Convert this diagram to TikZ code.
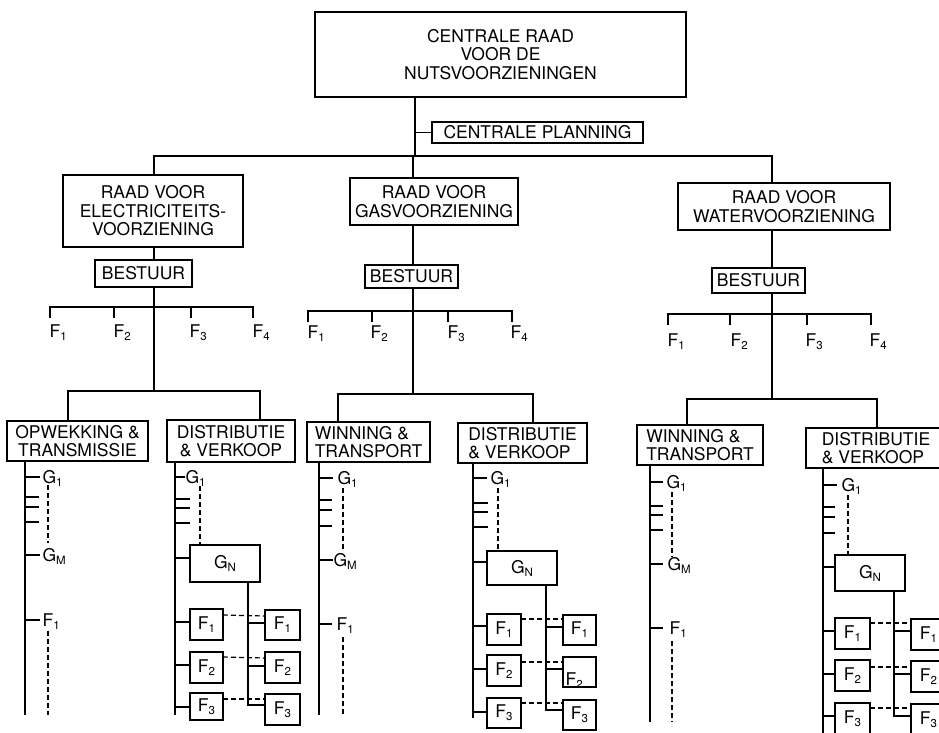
\documentclass[tikz,border=0pt]{standalone}
\usepackage{fontspec}
\setmainfont{TeX Gyre Heros}
\newcommand\bigf{\fontsize{17.5}{18.5}\selectfont}
\newcommand\sbs[1]{\raisebox{-3pt}{\fontsize{11.5}{11.5}\selectfont #1}}
\newcommand\rbox[6]{\node[box, minimum width={(#4-#2)*1pt}, minimum height={(#5-#3)*1pt}] (#1) at ({(#2+#4)/2},{(#3+#5)/2}) {#6};}
\begin{document}
\begin{tikzpicture}[x=1pt,y=-1pt,line width=1.2pt,
  box/.style={draw, inner sep=0pt, outer sep=0pt, align=center, font=\bigf},
  lbl/.style={inner sep=0pt, anchor=base west, font=\bigf},
  dsh/.style={dash pattern=on 5pt off 3pt}]
\useasboundingbox (0,0) rectangle (939,732);
\clip (0,0) rectangle (939,732);
\fill[white] (0,0) rectangle (939,732);

% top level
\rbox{top}{315}{12}{686}{97}{CENTRALE RAAD\\VOOR DE\\NUTSVOORZIENINGEN}
\rbox{plan}{432}{122}{643}{143}{CENTRALE PLANNING}
\coordinate (j0) at (415,156);
\coordinate (jE) at (154,156);
\coordinate (jG) at (413,156);
\coordinate (jW) at (772,156);
\draw (top.south -| j0) -- (j0);
\draw (plan.west -| j0) -- (plan.west);

\rbox{elec}{63}{175}{243}{247}{RAAD VOOR\\ELECTRICITEITS-\\VOORZIENING}
\rbox{gas}{350}{178}{518}{225}{RAAD VOOR\\GASVOORZIENING}
\rbox{water}{678}{183}{890}{230}{RAAD VOOR\\WATERVOORZIENING}
\draw (elec.north -| jE) -- (jE) -- (jW) -- (water.north -| jW);
\draw (jG) -- (gas.north -| jG);

\rbox{bE}{95}{260}{192}{287}{BESTUUR}
\rbox{bG}{365}{265}{458}{288}{BESTUUR}
\rbox{bW}{712}{268}{805}{293}{BESTUUR}
\draw (elec.south -| jE) -- (bE.north -| jE);
\draw (gas.south -| jG) -- (bG.north -| jG);
\draw (water.south -| jW) -- (bW.north -| jW);

% function lines
\draw (50,318) -- (50,307) -- (253,307) -- (253,318);
\draw (114,307) -- (114,318); \draw (191,307) -- (191,318);
\node[lbl] (eF1) at (49,337) {F\sbs1};
\node[lbl] (eF2) at (113,337) {F\sbs2};
\node[lbl] (eF3) at (189,337) {F\sbs3};
\node[lbl] (eF4) at (252,337) {F\sbs4};

\draw (308,322) -- (308,311) -- (512,311) -- (512,322);
\draw (372,311) -- (372,322); \draw (448,311) -- (448,322);
\node[lbl] (gF1) at (307,338) {F\sbs1};
\node[lbl] (gF2) at (370,338) {F\sbs2};
\node[lbl] (gF3) at (447,338) {F\sbs3};
\node[lbl] (gF4) at (510,338) {F\sbs4};

\draw (668,325) -- (668,314) -- (871,314) -- (871,325);
\draw (730,314) -- (730,325); \draw (807,314) -- (807,325);
\node[lbl] (wF1) at (667,346) {F\sbs1};
\node[lbl] (wF2) at (730,346) {F\sbs2};
\node[lbl] (wF3) at (805,346) {F\sbs3};
\node[lbl] (wF4) at (869,346) {F\sbs4};

% sub divisions
\rbox{opE}{7}{421}{148}{461}{OPWEKKING \&\\TRANSMISSIE}
\rbox{dE}{167}{420}{295}{462}{DISTRIBUTIE\\\& VERKOOP}
\node[box, align=left, minimum width=123pt, minimum height=40pt] (wG) at (368.5,442) {WINNING \&\\TRANSPORT};
\node[box, align=left, minimum width=129pt, minimum height=40pt] (dG) at (522.5,443) {DISTRIBUTIE\\\& VERKOOP};
\node[box, align=left, minimum width=126pt, minimum height=40pt] (wW) at (700,445) {WINNING \&\\TRANSPORT};
\node[box, align=left, minimum width=140pt, minimum height=40pt] (dW) at (876,448) {DISTRIBUTIE\\\& VERKOOP};

\coordinate (kE) at (154,391);
\coordinate (kG) at (413,394);
\coordinate (kW) at (772,399);
\draw (bE.south -| kE) -- (kE);
\draw (bG.south -| kG) -- (kG);
\draw (bW.south -| kW) -- (kW);
\draw (opE.north -| 68,0) -- (68,391) -- (260,391) -- (dE.north -| 260,0);
\draw (wG.north -| 338,0) -- (338,394) -- (533,394) -- (dG.north -| 533,0);
\draw (wW.north -| 687,0) -- (687,399) -- (877,399) -- (dW.north -| 877,0);

% ---- column A : opwekking
\coordinate (aB) at (25,715);
\draw (opE.south -| aB) -- (aB);
\node[lbl] (aG1) at (42,483) {G\sbs1};
\draw (25,477) -- (40,477);
\draw (25,497) -- (39,497); \draw (25,507) -- (39,507); \draw (25,522) -- (39,522);
\draw[dsh] (48,485) -- (48,543);
\node[lbl] (aGM) at (42,561) {G\sbs{M}};
\draw (25,555) -- (40,555);
\node[lbl] (aF1) at (42,626) {F\sbs1};
\draw (25,620) -- (40,620);
\draw[dsh] (48,631) -- (48,715);

% ---- column C : winning gas
\coordinate (cB) at (319,715);
\draw (wG.south -| cB) -- (cB);
\node[lbl] (cG1) at (337,484) {G\sbs1};
\draw (319,478) -- (333,478);
\draw (319,500) -- (332,500); \draw (319,510) -- (332,510); \draw (319,526) -- (332,526);
\draw[dsh] (343,488) -- (343,550);
\node[lbl] (cGM) at (333,566) {G\sbs{M}};
\draw (319,560) -- (333,560);
\node[lbl] (cF1) at (336,630) {F\sbs1};
\draw (319,624) -- (332,624);
\draw[dsh] (343,637) -- (343,715);

% ---- column E : winning water
\coordinate (eB) at (650,722);
\draw (wW.south -| eB) -- (eB);
\node[lbl] (eG1) at (666,488) {G\sbs1};
\draw (650,482) -- (663,482);
\draw (650,506) -- (663,506); \draw (650,515) -- (663,515); \draw (650,530) -- (663,530);
\draw[dsh] (672,492) -- (672,557);
\node[lbl] (eGM) at (667,570) {G\sbs{M}};
\draw (650,564) -- (663,564);
\node[lbl] (eF1x) at (669,634) {F\sbs1};
\draw (650,628) -- (663,628);
\draw[dsh] (672,641) -- (672,722);

% ---- column B : distributie elec
\coordinate (bB) at (175,715);
\draw (dE.south -| bB) -- (bB);
\node[lbl] (bG1) at (185,483) {G\sbs1};
\draw (175,477) -- (185,477);
\draw (175,499) -- (190,499); \draw (175,508) -- (190,508); \draw (175,523) -- (190,523);
\rbox{gnE}{190}{545}{260}{582}{G\sbs{N}}
\draw[dsh] (200,486) -- (200,545);
\draw (175,558) -- (gnE.west |- 0,558);
\rbox{eL1}{190}{609}{223}{640}{F\sbs1}
\rbox{eL2}{190}{652}{223}{683}{F\sbs2}
\rbox{eL3}{190}{693}{223}{720}{F\sbs3}
\rbox{eR1}{265}{610}{300}{640}{F\sbs1}
\rbox{eR2}{265}{652}{300}{683}{F\sbs2}
\rbox{eR3}{265}{694}{300}{725}{F\sbs3}
\draw (175,622) -- (eL1.west |- 0,622);
\draw (175,665) -- (eL2.west |- 0,665);
\draw (175,707) -- (eL3.west |- 0,707);
\draw (gnE.south -| 248,0) -- (248,705) -- (eR3.west |- 0,705);
\draw (248,623) -- (eR1.west |- 0,623);
\draw (248,666) -- (eR2.west |- 0,666);
\draw[dsh] (eL1.east |- 0,615) -- (eR1.west |- 0,616);
\draw[dsh] (eL2.east |- 0,657) -- (eR2.west |- 0,658);
\draw[dsh] (eL3.east |- 0,699) -- (eR3.west |- 0,699);

% ---- column D : distributie gas
\coordinate (dB) at (473,718);
\draw (dG.south -| dB) -- (dB);
\node[lbl] (dG1) at (490,484) {G\sbs1};
\draw (473,478) -- (487,478);
\draw (473,503) -- (488,503); \draw (473,512) -- (488,512); \draw (473,527) -- (488,527);
\rbox{gnG}{487}{551}{557}{585}{G\sbs{N}}
\draw[dsh] (498,488) -- (498,551);
\draw (473,562) -- (gnG.west |- 0,562);
\rbox{gL1}{487}{614}{521}{645}{F\sbs1}
\rbox{gL2}{487}{655}{521}{686}{F\sbs2}
\rbox{gL3}{487}{698}{521}{728}{F\sbs3}
\rbox{gR1}{563}{615}{596}{645}{F\sbs1}
\rbox{gR2}{563}{657}{596}{687}{}
\node[lbl, anchor=base west] (gR2t) at (565,685) {F\sbs2};
\rbox{gR3}{563}{700}{596}{730}{F\sbs3}
\draw (473,626) -- (gL1.west |- 0,626);
\draw (473,669) -- (gL2.west |- 0,669);
\draw (473,712) -- (gL3.west |- 0,712);
\draw (gnG.south -| 546,0) -- (546,710) -- (gR3.west |- 0,710);
\draw (546,627) -- (gR1.west |- 0,627);
\draw (546,669) -- (gR2.west |- 0,669);
\draw[dsh] (gL1.east |- 0,619) -- (gR1.west |- 0,619);
\draw[dsh] (gL2.east |- 0,662) -- (gR2.west |- 0,662);
\draw[dsh] (gL3.east |- 0,703) -- (gR3.west |- 0,703);

% ---- column F : distributie water
\coordinate (fB) at (823,740);
\draw (dW.south -| fB) -- (fB);
\node[lbl] (fG1) at (841,491) {G\sbs1};
\draw (823,485) -- (837,485);
\draw (823,507) -- (835,507); \draw (823,517) -- (835,517); \draw (823,533) -- (835,533);
\rbox{gnW}{835}{555}{905}{591}{G\sbs{N}}
\draw[dsh] (848,495) -- (848,555);
\draw (823,567) -- (gnW.west |- 0,567);
\rbox{wL1}{835}{618}{870}{649}{F\sbs1}
\rbox{wL2}{835}{660}{870}{691}{F\sbs2}
\rbox{wL3}{835}{703}{870}{734}{F\sbs3}
\rbox{wR1}{911}{619}{946}{650}{F\sbs1}
\rbox{wR2}{911}{661}{946}{692}{F\sbs2}
\rbox{wR3}{911}{704}{946}{735}{F\sbs3}
\draw (823,631) -- (wL1.west |- 0,631);
\draw (823,674) -- (wL2.west |- 0,674);
\draw (823,716) -- (wL3.west |- 0,716);
\draw (gnW.south -| 894,0) -- (894,716) -- (wR3.west |- 0,716);
\draw (894,631) -- (wR1.west |- 0,631);
\draw (894,674) -- (wR2.west |- 0,674);
\draw[dsh] (wL1.east |- 0,623) -- (wR1.west |- 0,623);
\draw[dsh] (wL2.east |- 0,667) -- (wR2.west |- 0,667);
\draw[dsh] (wL3.east |- 0,708) -- (wR3.west |- 0,708);
\end{tikzpicture}
\end{document}
